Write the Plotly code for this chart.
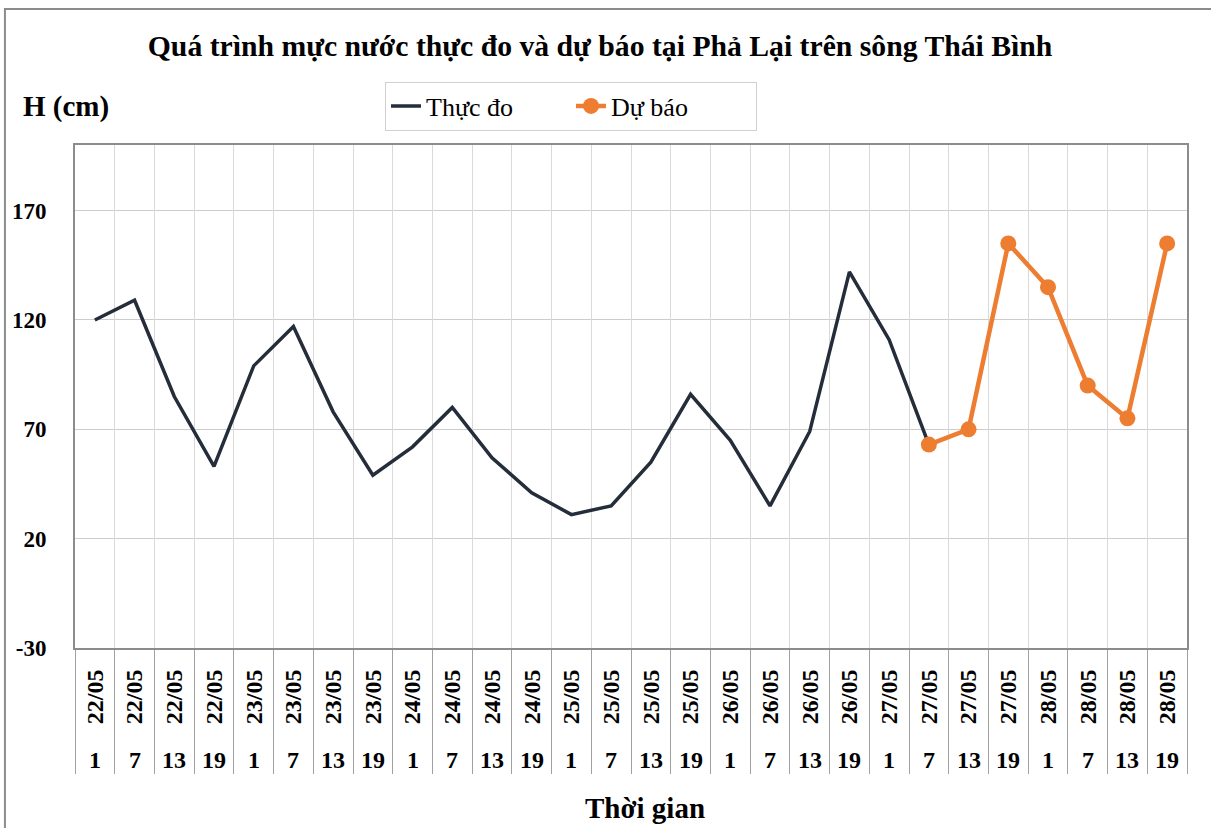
import plotly.graph_objects as go

dates = ["22/05"] * 4 + ["23/05"] * 4 + ["24/05"] * 4 + ["25/05"] * 4 + \
        ["26/05"] * 4 + ["27/05"] * 4 + ["28/05"] * 4
hours = ["1", "7", "13", "19"] * 7
categories = [f"{d} {h}h" for d, h in zip(dates, hours)]

observed = [120, 129, 85, 53, 99, 117, 78, 49, 62, 80, 57, 41, 31, 35, 55, 86,
            65, 35, 69, 142, 111, 63] + [None] * 6
forecast = [None] * 21 + [63, 70, 155, 135, 90, 75, 155]

y_ticks = [-30, 20, 70, 120, 170]
y_tick_text = ["-30", "20", "70", "120", "170"]

SERIF = "Liberation Serif, Times New Roman, serif"
n = len(categories)
boundaries = [i - 0.5 for i in range(n + 1)]

fig = go.Figure()
# helper trace (no visible marks) so that the category-boundary axis is drawn
fig.add_trace(go.Scatter(x=boundaries, y=[None] * len(boundaries), xaxis="x2", yaxis="y",
                         mode="lines", showlegend=False, hoverinfo="skip"))
fig.add_trace(go.Scatter(
    x=categories, y=observed, name="Thực đo", mode="lines",
    line=dict(color="#252d3b", width=3.5), connectgaps=False))
fig.add_trace(go.Scatter(
    x=categories, y=forecast, name="Dự báo", mode="lines+markers",
    line=dict(color="#ed7d31", width=4.5), marker=dict(size=16, color="#ed7d31")))

# hour labels (second row of the category axis)
for c, h in zip(categories, hours):
    fig.add_annotation(x=c, xref="x", y=-0.2227, yref="paper", text=h,
                       showarrow=False,
                       font=dict(family=SERIF, size=24, color="black", weight="bold"),
                       yanchor="middle", xanchor="center")

fig.add_annotation(x=0.5126, xref="paper", y=-0.318, yref="paper", text="Thời gian",
                   showarrow=False,
                   font=dict(family=SERIF, size=29, color="black", weight="bold"),
                   yanchor="middle", xanchor="center")
fig.add_annotation(x=-0.0081, xref="paper", y=1.0775, yref="paper", text="H (cm)",
                   showarrow=False,
                   font=dict(family=SERIF, size=29, color="black", weight="bold"),
                   xanchor="center", yanchor="middle")

# outer chart frame
fig.add_shape(type="rect", xref="paper", yref="paper", x0=-0.063, x1=1.2,
              y0=-0.6, y1=1.2704, line=dict(color="#8c8c8c", width=2), layer="below")

fig.update_layout(
    width=1211, height=828,
    margin=dict(l=75, r=24, t=145, b=180),
    paper_bgcolor="white", plot_bgcolor="white",
    title=dict(text="Quá trình mực nước thực đo và dự báo tại Phả Lại trên sông Thái Bình",
               x=0.4955, xanchor="center", y=0.9444, yanchor="middle",
               font=dict(family=SERIF, size=29.7, color="black", weight="bold")),
    legend=dict(orientation="h", x=(385 - 75) / 1112, xanchor="left", y=1.0775,
                yanchor="middle",
                bordercolor="#d0d0d0", borderwidth=1, bgcolor="white",
                font=dict(family=SERIF, size=26, color="black"),
                entrywidth=140, entrywidthmode="pixels"),
    showlegend=True,
    xaxis=dict(type="category", categoryorder="array", categoryarray=categories,
               range=[-0.5, n - 0.5], tickmode="array", tickvals=categories, ticktext=dates,
               tickangle=-90, ticks="", showgrid=False,
               showline=True, linecolor="#8c8c8c", linewidth=2, mirror=True,
               tickfont=dict(family=SERIF, size=24, color="black", weight="bold"),
               ticklabelstandoff=10),
    xaxis2=dict(overlaying="x", anchor="y", side="bottom", range=[-0.5, n - 0.5],
                type="linear",
                tickmode="array", tickvals=boundaries, showticklabels=False,
                ticks="outside", ticklen=125, tickcolor="#a0a0a0", tickwidth=1,
                showgrid=True, gridcolor="#d9d9d9", gridwidth=1, zeroline=False,
                layer="below traces"),
    yaxis=dict(range=[-30, 200], tickmode="array", tickvals=y_ticks, ticktext=y_tick_text,
               showgrid=True, gridcolor="#cccccc", gridwidth=1, zeroline=False,
               showline=True, linecolor="#8c8c8c", linewidth=2, mirror=True,
               ticks="", ticklabelstandoff=22,
               tickfont=dict(family=SERIF, size=23, color="black", weight="bold")),
)

fig.write_html("out.html", config={"displayModeBar": False},
               post_script="document.body.style.margin='0';")
